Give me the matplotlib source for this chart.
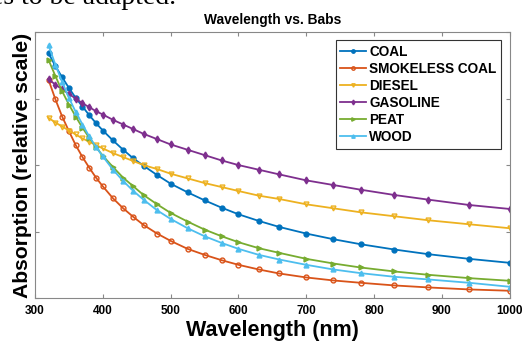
import matplotlib
matplotlib.use('Agg')
import matplotlib.pyplot as plt

plt.rcParams['font.family'] = ['Liberation Sans', 'DejaVu Sans']
plt.rcParams['font.weight'] = 'bold'

# --- data ---
wavelength = [320, 330, 340, 350, 360, 370, 380, 390, 400, 415, 430, 445, 460, 480,
              500, 525, 550, 575, 600, 630, 660, 700, 740, 780, 830, 880, 940, 1000]

coal = [3.68, 3.49, 3.32, 3.16, 3.01, 2.88, 2.75, 2.63, 2.52, 2.37, 2.23, 2.10, 1.99, 1.85,
        1.72, 1.59, 1.47, 1.36, 1.26, 1.16, 1.07, 0.97, 0.885, 0.81, 0.73, 0.66, 0.59, 0.53]
smokeless_coal = [3.28, 2.99, 2.73, 2.51, 2.30, 2.12, 1.96, 1.81, 1.68, 1.50, 1.35, 1.22, 1.10, 0.97,
                  0.86, 0.74, 0.65, 0.57, 0.50, 0.43, 0.37, 0.31, 0.265, 0.23, 0.19, 0.16, 0.13, 0.11]
diesel = [2.71, 2.64, 2.58, 2.52, 2.46, 2.40, 2.35, 2.30, 2.25, 2.18, 2.12, 2.06, 2.00, 1.94,
          1.87, 1.80, 1.73, 1.67, 1.61, 1.54, 1.49, 1.41, 1.35, 1.29, 1.23, 1.17, 1.11, 1.05]
gasoline = [3.29, 3.21, 3.14, 3.07, 3.00, 2.93, 2.87, 2.81, 2.76, 2.68, 2.61, 2.54, 2.47, 2.39,
            2.31, 2.23, 2.15, 2.07, 2.00, 1.93, 1.86, 1.77, 1.70, 1.63, 1.55, 1.48, 1.40, 1.34]
peat = [3.58, 3.34, 3.11, 2.91, 2.73, 2.56, 2.41, 2.27, 2.14, 1.97, 1.81, 1.68, 1.55, 1.41,
        1.28, 1.15, 1.03, 0.93, 0.84, 0.75, 0.68, 0.59, 0.52, 0.46, 0.40, 0.35, 0.30, 0.26]
wood = [3.80, 3.51, 3.25, 3.01, 2.80, 2.61, 2.43, 2.27, 2.13, 1.93, 1.76, 1.61, 1.48, 1.32,
        1.19, 1.05, 0.93, 0.83, 0.74, 0.65, 0.58, 0.50, 0.43, 0.375, 0.32, 0.28, 0.23, 0.17]

labels = ['COAL', 'SMOKELESS COAL', 'DIESEL', 'GASOLINE', 'PEAT', 'WOOD']
x_ticks = [300, 400, 500, 600, 700, 800, 900, 1000]

fig = plt.figure(figsize=(5.25, 3.45), dpi=100)
ax = fig.add_axes([0.0667, 0.136, 0.9043, 0.771])

# (color, marker, filled)
styles = [
    ('#0072BD', 'o', True),
    ('#D95319', 'o', False),
    ('#EDB120', 'v', False),
    ('#7E2F8E', 'd', True),
    ('#77AC30', '>', True),
    ('#4DBEEE', '^', True),
]
series = [coal, smokeless_coal, diesel, gasoline, peat, wood]

for vals, lab, (col, mk, filled) in zip(series, labels, styles):
    ax.plot(wavelength, vals, color=col, linewidth=1.3, marker=mk, markersize=3.5,
            markerfacecolor=col if filled else 'none', markeredgecolor=col,
            markeredgewidth=1.0, label=lab)

ax.set_xlim(300, 1000)
ax.set_ylim(0, 4)
ax.set_xticks(x_ticks)
ax.set_xticklabels([str(t) for t in x_ticks], fontsize=8.5, fontweight='bold')
ax.set_yticks([0, 1, 2, 3, 4])
ax.set_yticklabels([])
ax.tick_params(direction='in', top=True, right=True, length=3, color='#888888', pad=5)
for s in ax.spines.values():
    s.set_color('#888888')
    s.set_linewidth(0.8)

ax.set_title('Wavelength vs. Babs', fontsize=9.9, fontweight='bold', pad=6)
ax.set_xlabel('Wavelength (nm)', fontsize=15.5, fontweight='bold', labelpad=2)
ax.set_ylabel('Absorption (relative scale)', fontsize=15.2, fontweight='bold', labelpad=-3)

leg = ax.legend(loc='upper right', bbox_to_anchor=(0.996, 0.995), fontsize=9.8,
                fancybox=False, framealpha=1, edgecolor='#333333', handlelength=1.9,
                handletextpad=0.2, labelspacing=0.22, borderpad=0.35, markerscale=0.7)
leg.get_frame().set_linewidth(0.8)
for t in leg.get_texts():
    t.set_fontweight('bold')

# cut-off line of the surrounding document text
fig.text(-0.017, 0.988, 'es to be adapted.', fontsize=20, family='Liberation Serif',
         fontweight='normal', va='baseline', ha='left')

fig.savefig('out.png', dpi=100)
